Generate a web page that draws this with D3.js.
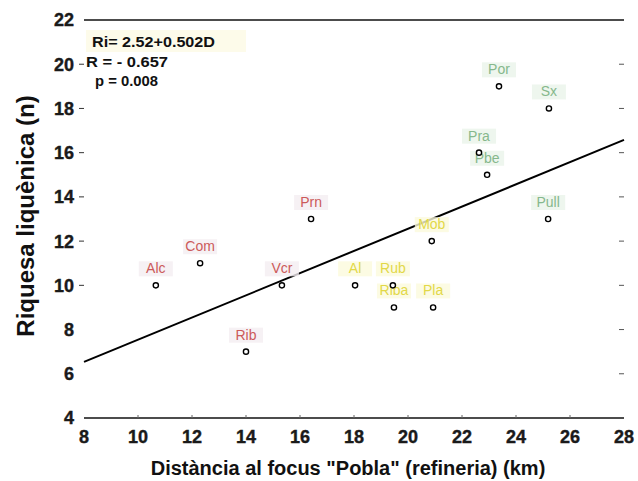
<!DOCTYPE html>
<html>
<head>
<meta charset="utf-8">
<script src="https://cdn.jsdelivr.net/npm/d3@7"></script>
<style>
html,body{margin:0;padding:0;background:#fff;}
svg{display:block;}
text{font-family:"Liberation Sans",Arial,sans-serif;}
</style>
</head>
<body>
<svg id="chart" width="638" height="481"></svg>
<script>
// ---- data ----
const siteLabels = ["Alc","Com","Rib","Vcr","Prn","Al","Rub","Riba","Pla","Mob","Pra","Pbe","Por","Sx","Pull"];
const distanceKm = [10.66,12.30,14.0,15.33,16.41,18.04,19.44,19.48,20.93,20.88,22.63,22.93,23.37,25.22,25.19];
const richness   = [10,11,7,10,13,10,10,9,9,12,16,15,19,18,13];
const siteGroup  = ["a","a","a","a","a","b","b","b","b","b","c","c","c","c","c"];
const xTicks = [8,10,12,14,16,18,20,22,24,26,28];
const yTicks = [4,6,8,10,12,14,16,18,20,22];
const regIntercept = 2.52, regSlope = 0.502;
const statLines = ["Ri= 2.52+0.502D","R = - 0.657","p = 0.008"];

// ---- layout ----
const svg = d3.select("#chart");
const x = d3.scaleLinear().domain([8,28]).range([84,624]);
const y = d3.scaleLinear().domain([4,22]).range([418,20]);
const textCol = {a:"#cc5a5a", b:"#e2d848", c:"#86b88c"};
const boxCol  = {a:"#f4eef1", b:"#fbfadc", c:"#eaf4ea"};

// frame lines (top & bottom)
svg.append("line").attr("x1",x(8)).attr("x2",x(28)).attr("y1",y(22)).attr("y2",y(22))
  .attr("stroke","#111").attr("stroke-width",1.3);
svg.append("line").attr("x1",x(8)).attr("x2",x(28)).attr("y1",y(4)).attr("y2",y(4))
  .attr("stroke","#111").attr("stroke-width",1.3);

// y tick labels and dashes
const yg = svg.append("g");
yg.selectAll("text").data(yTicks).enter().append("text")
  .attr("x",74).attr("y",d=>y(d)).attr("dy","0.36em")
  .attr("text-anchor","end").attr("font-size",18).attr("font-weight","bold")
  .attr("fill","#1a1a1a").attr("stroke","#1a1a1a").attr("stroke-width",0.4)
  .text(d=>d);
yg.selectAll("line.l").data(yTicks.filter(d=>d>=10 && d<=20)).enter().append("line")
  .attr("x1",79).attr("x2",84).attr("y1",d=>y(d)).attr("y2",d=>y(d))
  .attr("stroke","#333").attr("stroke-width",1);
yg.selectAll("line.r").data(yTicks.filter(d=>d>4 && d<22)).enter().append("line")
  .attr("x1",619).attr("x2",624).attr("y1",d=>y(d)).attr("y2",d=>y(d))
  .attr("stroke","#555").attr("stroke-width",1);

// x tick labels and ticks
const xg = svg.append("g");
xg.selectAll("text").data(xTicks).enter().append("text")
  .attr("x",d=>x(d)).attr("y",437).attr("dy","0.36em")
  .attr("text-anchor","middle").attr("font-size",18).attr("font-weight","bold")
  .attr("fill","#1a1a1a").attr("stroke","#1a1a1a").attr("stroke-width",0.4)
  .text(d=>d);
xg.selectAll("line").data(xTicks.filter(d=>d>8 && d<28)).enter().append("line")
  .attr("x1",d=>x(d)).attr("x2",d=>x(d)).attr("y1",y(4)).attr("y2",y(4)-3)
  .attr("stroke","#666").attr("stroke-width",1);

// axis titles
svg.append("text").attr("transform","translate(34,216) rotate(-90)")
  .attr("text-anchor","middle").attr("font-size",24).attr("font-weight","bold").attr("fill","#111")
  .text("Riquesa liquènica (n)");
svg.append("text").attr("x",348).attr("y",475)
  .attr("text-anchor","middle").attr("font-size",20).attr("font-weight","bold").attr("fill","#111")
  .text("Distància al focus \"Pobla\" (refineria) (km)");

// regression line
svg.append("line")
  .attr("x1",x(8)).attr("y1",y(regIntercept+regSlope*8))
  .attr("x2",x(28)).attr("y2",y(regIntercept+regSlope*28))
  .attr("stroke","#000").attr("stroke-width",2);

// stats box
svg.append("rect").attr("x",86).attr("y",30).attr("width",160).attr("height",22).attr("fill","#fdfbea");
const st = svg.append("g");
const stX = [92,86,95], stY = [47,67,86], stW = [123,82,63];
st.selectAll("text").data(statLines).enter().append("text")
  .attr("x",(d,i)=>stX[i]).attr("y",(d,i)=>stY[i])
  .attr("font-size",(d,i)=>i===0?15:14).attr("font-weight","bold").attr("fill","#111")
  .attr("textLength",(d,i)=>stW[i]).attr("lengthAdjust","spacingAndGlyphs")
  .text(d=>d);

// point labels
const pts = siteLabels.map((s,i)=>({s, d:distanceKm[i], r:richness[i], g:siteGroup[i]}));
const lg = svg.append("g");
const lab = lg.selectAll("g").data(pts).enter().append("g")
  .attr("transform",d=>`translate(${x(d.d)},${y(d.r)-13})`);
lab.append("rect").attr("x",-17).attr("y",-11).attr("width",34).attr("height",15)
  .attr("fill",d=>boxCol[d.g]).attr("opacity",0.8);
lab.append("text").attr("text-anchor","middle").attr("y",1).attr("font-size",14)
  .attr("fill",d=>textCol[d.g]).text(d=>d.s);

// markers
svg.append("g").selectAll("circle").data(pts).enter().append("circle")
  .attr("cx",d=>x(d.d)).attr("cy",d=>y(d.r)).attr("r",2.6)
  .attr("fill","#fff").attr("stroke","#000").attr("stroke-width",1.4);
</script>
</body>
</html>
